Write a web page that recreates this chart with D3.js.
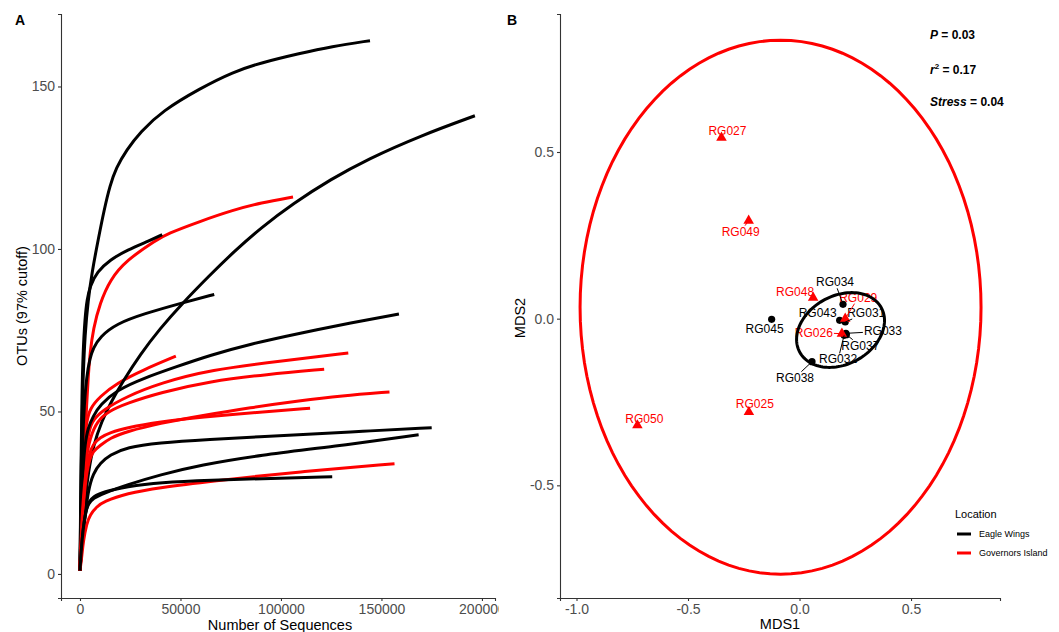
<!DOCTYPE html>
<html>
<head>
<meta charset="utf-8">
<script src="https://cdn.jsdelivr.net/npm/d3@7"></script>
<style>
  body { margin: 0; background: #fff; }
  svg { font-family: "Liberation Sans", Arial, sans-serif; }
</style>
</head>
<body>
<div id="chart"></div>
<script>
// ---- panel A: rarefaction curves, [number of sequences, OTUs] ----
var eagleWingsCurves = [
  [[0,1],[500,28],[1000,47],[1500,60],[2500,74],[4000,84],[6000,93],[9100,103],[12000,112],[14900,119.5],[18000,125],[23200,130.5],[30000,136],[41000,142.5],[59700,149.4],[76300,154.5],[90000,157.3],[109500,160.2],[125000,162.3],[144300,164.1]],
  [[0,1],[500,35],[1000,56],[1500,68],[2500,79],[3500,84.5],[5000,88.5],[8500,93],[14900,96.6],[23400,99.7],[34800,102.6],[40900,104.4]],
  [[0,1],[1000,9],[1800,15],[2800,24],[4100,31],[6600,39.5],[10800,47],[15500,53],[21600,59.5],[29900,67.5],[39800,75.5],[50500,83],[64700,92],[76300,99],[90000,106.5],[106000,114],[125000,121.5],[142600,127.5],[170000,135],[196500,141]],
  [[0,1],[800,30],[1800,50],[3300,61],[5000,66.5],[6600,69.5],[9950,73],[18200,77],[31500,80],[51400,83.5],[66800,86]],
  [[0,1],[600,20],[1500,33],[2500,40],[4000,45],[6500,48.5],[10000,52],[18400,56.6],[31500,60.2],[48100,63.8],[64700,67.3],[85000,70.8],[109500,74.1],[135000,77.3],[158700,80]],
  [[0,1],[800,8],[1600,13],[2500,17.6],[4100,25.8],[6600,31],[10000,34.1],[14900,36.6],[23200,39],[39800,40.4],[59700,41.3],[109500,42.8],[140000,43.9],[175000,45]],
  [[0,1],[800,9],[1800,15],[3000,19.5],[4100,21.5],[6600,23.3],[11600,24.8],[23200,27.4],[39800,30.5],[59700,33.5],[90000,36.6],[126000,39.2],[168500,42.8]],
  [[0,1],[700,8],[1600,14],[2500,18],[3300,20],[4100,22],[6600,23.8],[11600,25.3],[23200,26.9],[39800,28.2],[64700,28.9],[95000,29.4],[125500,29.9]]
];
var governorsCurves = [
  [[0,1],[1500,25],[2500,42],[3300,52],[4100,61],[5000,68],[6600,75.5],[9950,83.3],[14900,90.5],[23200,96.6],[38100,102.8],[43100,104.6],[59700,108.5],[76300,112],[90000,114.2],[106000,116]],
  [[0,1],[800,22],[2000,40],[3300,47],[5000,51],[9950,54.6],[18200,58.7],[31500,62.8],[47700,67]],
  [[0,1],[1000,20],[2500,36],[4500,44.5],[6600,47.5],[11600,50.5],[23200,54.6],[39800,58.7],[64700,62.8],[101100,65.6],[133500,68]],
  [[0,1],[1200,22],[2800,35],[5000,42],[8500,47],[14000,50],[23200,52.5],[39800,55.8],[64700,59.3],[92900,61.4],[121500,63]],
  [[0,1],[1000,15],[2500,28],[4500,35],[6600,37.8],[9950,39.5],[14900,41.8],[23200,43.8],[39800,46.4],[59700,48.6],[85000,51.2],[109500,53.3],[130000,54.8],[154000,56]],
  [[0,1],[1000,18],[2500,30],[4500,37],[6600,40],[9950,42],[14900,43.5],[23200,45],[39800,46.8],[59700,48.2],[92900,50],[114500,51]],
  [[0,1],[1000,6],[1650,10],[3300,15.5],[5000,18.2],[8300,20.7],[11600,22.2],[23200,24.8],[39800,26.6],[64700,28.5],[109500,31.5],[156500,33.9]]
];
var seqTicks = [0, 50000, 100000, 150000, 200000];
var otuTicks = [0, 50, 100, 150];

// ---- panel B: NMDS ----
var sampleIds = ["RG025","RG026","RG027","RG029","RG048","RG049","RG050",
                 "RG031","RG032","RG033","RG034","RG037","RG038","RG043","RG045"];
var sampleLocation = ["Governors Island","Governors Island","Governors Island","Governors Island","Governors Island","Governors Island","Governors Island",
                      "Eagle Wings","Eagle Wings","Eagle Wings","Eagle Wings","Eagle Wings","Eagle Wings","Eagle Wings","Eagle Wings"];
var mds1 = [-0.227, 0.190, -0.350, 0.205, 0.061, -0.228, -0.727,
             0.205, 0.200, 0.208, 0.195, 0.210, 0.056, 0.180, -0.125];
var mds2 = [-0.280, -0.045, 0.543, 0.000, 0.063, 0.294, -0.320,
            -0.010, -0.050, -0.044, 0.043, -0.048, -0.129, -0.005, -0.002];
// ellipse: centre x, centre y, semi axis a, semi axis b, rotation (rad)
var eagleEllipse = [0.184, -0.034, 0.2, 0.107, 0.2];
var governorsEllipse = [-0.085, 0.0345, 0.899, 0.801, 0];
var mds1Ticks = [-1, -0.5, 0, 0.5];
var mds2Ticks = [-0.5, 0, 0.5];
var locations = ["Eagle Wings", "Governors Island"];

// label placement (pixel offsets of label centre from point, repel style)
var labelNudge = [[6,-8],[-28,-1],[6,-7],[13,-21],[-18,-6],[-8,11],[7,-6],
                  [21,-9],[-6,24],[37,-2],[-8,-22],[14,11],[-17,16],[-22,-7],[-7,10]];

var W = 1059, H = 632;
var color = d3.scaleOrdinal().domain(locations).range(["#000000", "#ff0000"]);

var svg = d3.select("#chart").append("svg")
    .attr("width", W)
    .attr("height", H);

function styleAxis(g) {
    g.select(".domain").attr("stroke", "#333").attr("stroke-width", 1.1);
    g.selectAll(".tick line").attr("stroke", "#333").attr("stroke-width", 1.1);
    g.selectAll(".tick text").attr("fill", "#4d4d4d").style("font-size", "14px");
}

// ================= Panel A =================
svg.append("defs").append("clipPath")
    .attr("id", "clipA")
    .append("rect")
    .attr("x", 0).attr("y", 0).attr("width", 499).attr("height", H);

var gA = svg.append("g").attr("clip-path", "url(#clipA)");

var xA = d3.scaleLinear().domain([-9450, 206500]).range([61, 495]);
var yA = d3.scaleLinear().domain([-7.4, 172.3]).range([598, 14]);

var line = d3.line()
    .x(function(d) { return xA(d[0]); })
    .y(function(d) { return yA(d[1]); })
    .curve(d3.curveBasis);

// interleave a bit so crossings look like the original draw order
var allCurves = [];
eagleWingsCurves.forEach(function(c) { allCurves.push({loc: "Eagle Wings", pts: c}); });
governorsCurves.forEach(function(c, i) { allCurves.splice(i * 2 + 1, 0, {loc: "Governors Island", pts: c}); });

gA.append("g").selectAll("path")
    .data(allCurves)
    .enter().append("path")
    .attr("d", function(d) { return line(d.pts); })
    .attr("fill", "none")
    .attr("stroke", function(d) { return color(d.loc); })
    .attr("stroke-width", 3);

gA.append("g")
    .attr("transform", "translate(61,0)")
    .call(d3.axisLeft(yA).tickValues(otuTicks).tickSizeOuter(0).tickSize(3).tickPadding(3))
    .call(styleAxis);

gA.append("g")
    .attr("transform", "translate(0,598)")
    .call(d3.axisBottom(xA).tickValues(seqTicks).tickFormat(d3.format("d")).tickSizeOuter(0).tickSize(3).tickPadding(3))
    .call(styleAxis);

gA.append("text")
    .attr("x", 280).attr("y", 630)
    .attr("text-anchor", "middle")
    .style("font-size", "14.5px")
    .text("Number of Sequences");

gA.append("text")
    .attr("transform", "translate(27,306) rotate(-90)")
    .attr("text-anchor", "middle")
    .style("font-size", "14.5px")
    .text("OTUs (97% cutoff)");

svg.append("text")
    .attr("x", 15).attr("y", 25)
    .style("font-size", "14px").style("font-weight", "bold")
    .text("A");

// ================= Panel B =================
var gB = svg.append("g");

var xB = d3.scaleLinear().domain([-1.074, 0.899]).range([560, 1000]);
var yB = d3.scaleLinear().domain([-0.838, 0.914]).range([598, 14]);

gB.append("g")
    .attr("transform", "translate(560,0)")
    .call(d3.axisLeft(yB).tickValues(mds2Ticks).tickFormat(function(d) { return d.toFixed(1); })
        .tickSizeOuter(0).tickSize(3).tickPadding(3))
    .call(styleAxis);

gB.append("g")
    .attr("transform", "translate(0,598)")
    .call(d3.axisBottom(xB).tickValues(mds1Ticks).tickFormat(function(d) { return d.toFixed(1); })
        .tickSizeOuter(0).tickSize(3).tickPadding(3))
    .call(styleAxis);

gB.append("text")
    .attr("x", 780).attr("y", 629)
    .attr("text-anchor", "middle")
    .style("font-size", "14.5px")
    .text("MDS1");

gB.append("text")
    .attr("transform", "translate(525,318) rotate(-90)")
    .attr("text-anchor", "middle")
    .style("font-size", "14.5px")
    .text("MDS2");

svg.append("text")
    .attr("x", 507).attr("y", 25)
    .style("font-size", "14px").style("font-weight", "bold")
    .text("B");

var samples = sampleIds.map(function(id, i) {
    return {id: id, loc: sampleLocation[i], x: mds1[i], y: mds2[i], nudge: labelNudge[i]};
});

// points
gB.append("g").selectAll("circle")
    .data(samples.filter(function(d) { return d.loc === "Eagle Wings"; }))
    .enter().append("circle")
    .attr("cx", function(d) { return xB(d.x); })
    .attr("cy", function(d) { return yB(d.y); })
    .attr("r", 3.6)
    .attr("fill", color("Eagle Wings"));

gB.append("g").selectAll("path")
    .data(samples.filter(function(d) { return d.loc === "Governors Island"; }))
    .enter().append("path")
    .attr("d", d3.symbol().type(d3.symbolTriangle).size(48))
    .attr("transform", function(d) { return "translate(" + xB(d.x) + "," + yB(d.y) + ")"; })
    .attr("fill", color("Governors Island"));

// labels + leader segments
var labelG = gB.append("g");
var segG = gB.append("g");
samples.forEach(function(d) {
    var px = xB(d.x), py = yB(d.y);
    var cx = px + d.nudge[0], cy = py + d.nudge[1];
    var t = labelG.append("text")
        .attr("x", cx).attr("y", cy + 4)
        .attr("text-anchor", "middle")
        .attr("fill", color(d.loc))
        .style("font-size", "12px")
        .text(d.id);
    var w = t.node().getComputedTextLength() / 2 + 1, h = 6;
    var dx = px - cx, dy = py - cy;
    if (Math.abs(dx) <= w && Math.abs(dy) <= h) return;
    var s = Math.min(dx === 0 ? Infinity : w / Math.abs(dx), dy === 0 ? Infinity : h / Math.abs(dy));
    var sx = cx + dx * s, sy = cy + dy * s;
    var len = Math.hypot(px - sx, py - sy);
    if (len < 5) return;
    segG.append("line")
        .attr("x1", sx).attr("y1", sy)
        .attr("x2", px).attr("y2", py)
        .attr("stroke", color(d.loc))
        .attr("stroke-width", 1);
});

// confidence ellipses
function ellipsePoints(e) {
    var pts = [];
    for (var k = 0; k < 120; k++) {
        var a = k / 120 * 2 * Math.PI;
        var ex = e[2] * Math.cos(a), ey = e[3] * Math.sin(a);
        pts.push([e[0] + ex * Math.cos(e[4]) - ey * Math.sin(e[4]),
                  e[1] + ex * Math.sin(e[4]) + ey * Math.cos(e[4])]);
    }
    return pts;
}
var ellLine = d3.line()
    .x(function(d) { return xB(d[0]); })
    .y(function(d) { return yB(d[1]); })
    .curve(d3.curveLinearClosed);

gB.append("g").selectAll("path")
    .data([{loc: "Eagle Wings", e: eagleEllipse}, {loc: "Governors Island", e: governorsEllipse}])
    .enter().append("path")
    .attr("d", function(d) { return ellLine(ellipsePoints(d.e)); })
    .attr("fill", "none")
    .attr("stroke", function(d) { return color(d.loc); })
    .attr("stroke-width", 3);

// stats annotation
var stat = gB.append("g").style("font-size", "12px").style("font-weight", "bold");
var t1 = stat.append("text").attr("x", 930).attr("y", 39);
t1.append("tspan").style("font-style", "italic").text("P");
t1.append("tspan").text(" = 0.03");
var t2 = stat.append("text").attr("x", 930).attr("y", 74);
t2.append("tspan").style("font-style", "italic").text("r");
t2.append("tspan").attr("dy", -5).style("font-size", "8px").text("2");
t2.append("tspan").attr("dy", 5).text(" = 0.17");
var t3 = stat.append("text").attr("x", 930).attr("y", 106);
t3.append("tspan").style("font-style", "italic").text("Stress");
t3.append("tspan").text(" = 0.04");

// legend
var leg = gB.append("g").attr("transform", "translate(955,518)");
leg.append("text").attr("x", 0).attr("y", 0).style("font-size", "11px").text("Location");
var items = leg.selectAll("g.item")
    .data(locations)
    .enter().append("g")
    .attr("class", "item")
    .attr("transform", function(d, i) { return "translate(0," + (16 + i * 19) + ")"; });
items.append("line")
    .attr("x1", 2).attr("x2", 16)
    .attr("stroke", function(d) { return color(d); })
    .attr("stroke-width", 3);
items.append("text")
    .attr("x", 24).attr("y", 3)
    .style("font-size", "9px")
    .text(function(d) { return d; });
</script>
</body>
</html>
